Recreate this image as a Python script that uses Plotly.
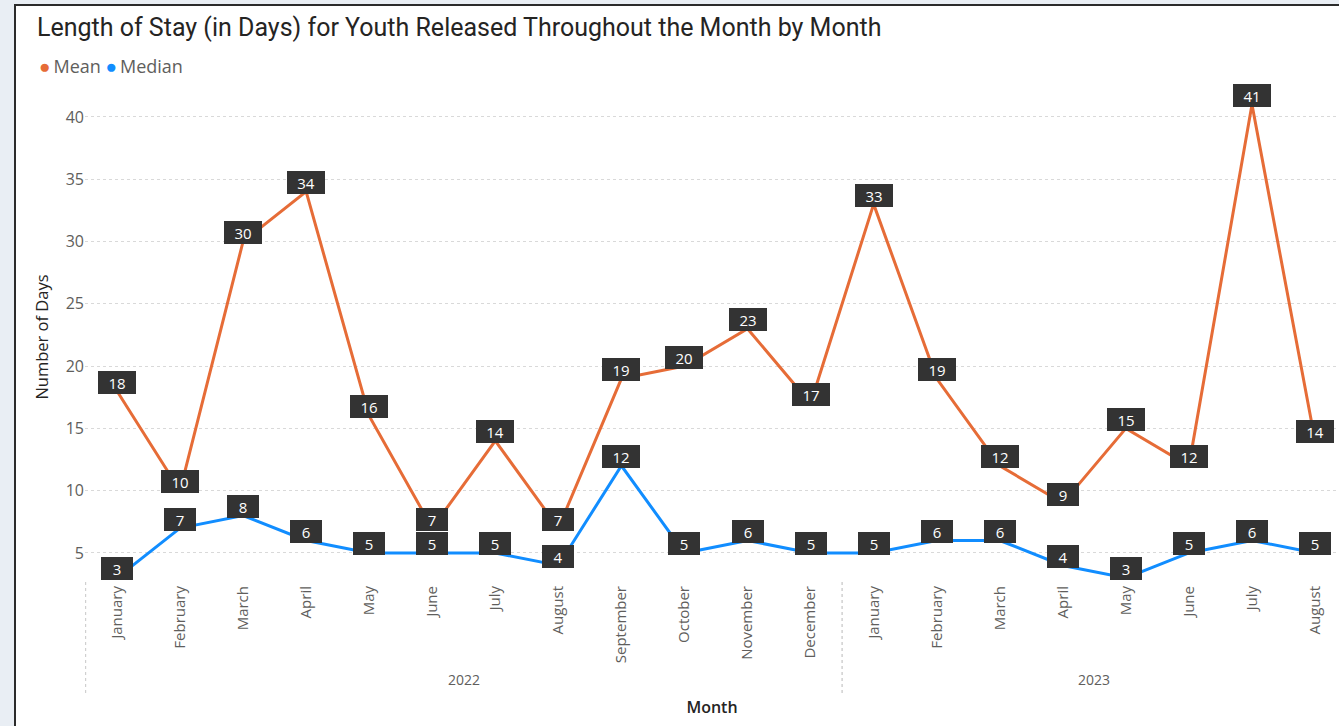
import plotly.graph_objects as go

# ---- data ----
months = ["January", "February", "March", "April", "May", "June", "July", "August",
          "September", "October", "November", "December",
          "January", "February", "March", "April", "May", "June", "July", "August"]
years = ["2022"] * 12 + ["2023"] * 8
mean_days = [18, 10, 30, 34, 16, 7, 14, 7, 19, 20, 23, 17, 33, 19, 12, 9, 15, 12, 41, 14]
median_days = [3, 7, 8, 6, 5, 5, 5, 4, 12, 5, 6, 5, 5, 6, 6, 4, 3, 5, 6, 5]
y_ticks = [5, 10, 15, 20, 25, 30, 35, 40]

MEAN_C = "#E66C37"
MEDIAN_C = "#118DFF"
W, H = 1339, 726
L, R, T, B = 85, 0, 92, 144
PW, PH = W - L - R, H - T - B


def px_x(p):
    return (p - L) / PW


def px_y(p):
    return (H - B - p) / PH


x_idx = list(range(len(months)))

fig = go.Figure()
fig.add_trace(go.Scatter(x=x_idx, y=median_days, mode="lines", name="Median",
                         line=dict(color=MEDIAN_C, width=3), showlegend=False))
fig.add_trace(go.Scatter(x=x_idx, y=mean_days, mode="lines", name="Mean",
                         line=dict(color=MEAN_C, width=3), showlegend=False))

# data labels
for series in (mean_days, median_days):
    for i, v in enumerate(series):
        txt = str(v)
        fig.add_annotation(x=i, y=v, text=txt, showarrow=False, yshift=9,
                           bgcolor="#333333", borderwidth=0, borderpad=3,
                           width=26 if len(txt) == 1 else 32, height=17,
                           font=dict(color="white", size=15, family="Open Sans"))

# legend (compact, Power BI style)
fig.add_annotation(xref="paper", yref="paper", x=px_x(37), y=px_y(66),
                   xanchor="left", yanchor="middle", showarrow=False,
                   text=(f"<span style='color:{MEAN_C};font-size:19px'>●</span>\u2009Mean "
                         f"<span style='color:{MEDIAN_C};font-size:19px'>●</span>\u2009Median"),
                   font=dict(size=18, color="#605E5C", family="Open Sans"))

# year group labels
group_centers = {}
for i, yv in enumerate(years):
    group_centers.setdefault(yv, []).append(i)
for yv, idxs in group_centers.items():
    fig.add_annotation(x=(idxs[0] + idxs[-1]) / 2, xref="x", y=px_y(679), yref="paper",
                       text=yv, showarrow=False, yanchor="middle",
                       font=dict(color="#605E5C", size=14, family="Open Sans"))

shapes = []
shapes.append(dict(type="rect", xref="paper", yref="paper", x0=px_x(15), x1=px_x(1345),
                   y0=px_y(5), y1=px_y(740), fillcolor="white",
                   line=dict(color="#2b2b2b", width=2), layer="below"))
div_positions = [-0.5] + [i + 0.5 for i in range(len(years) - 1) if years[i] != years[i + 1]]
for d in div_positions:
    shapes.append(dict(type="line", xref="x", yref="paper", x0=d, x1=d,
                       y0=px_y(582), y1=px_y(693),
                       line=dict(color="#d0d0d0", width=1.5, dash="dot")))

fig.update_layout(
    width=W, height=H,
    margin=dict(l=L, r=R, t=T, b=B),
    paper_bgcolor="#E9EEF4",
    plot_bgcolor="rgba(0,0,0,0)",
    shapes=shapes,
    showlegend=False,
    title=dict(text="Length of Stay (in Days) for Youth Released Throughout the Month by Month",
               x=37 / W, xanchor="left", y=1 - 27 / H, yanchor="middle",
               font=dict(size=25, color="#252423", family="Roboto")),
    xaxis=dict(range=[-0.507, 19.38], tickmode="array", tickvals=x_idx, ticktext=months,
               tickangle=-90, showgrid=False, zeroline=False, showline=False,
               tickfont=dict(size=15, color="#605E5C", family="Open Sans"),
               title=dict(text="Month", standoff=39,
                          font=dict(size=16, color="#252423", family="Open Sans", weight=600))),
    yaxis=dict(range=[2.67, 42.0], tickvals=y_ticks, showgrid=True, gridcolor="#d9d9d9",
               griddash="dot", gridwidth=1, zeroline=False, showline=False,
               tickfont=dict(size=16, color="#605E5C", family="Open Sans"),
               title=dict(text="Number of Days", standoff=12,
                          font=dict(size=16.5, color="#252423", family="Open Sans"))),
)

fig.write_html("out.html", config={"displayModeBar": False},
               post_script="document.body.style.margin='0';document.body.style.background='#E9EEF4';")
